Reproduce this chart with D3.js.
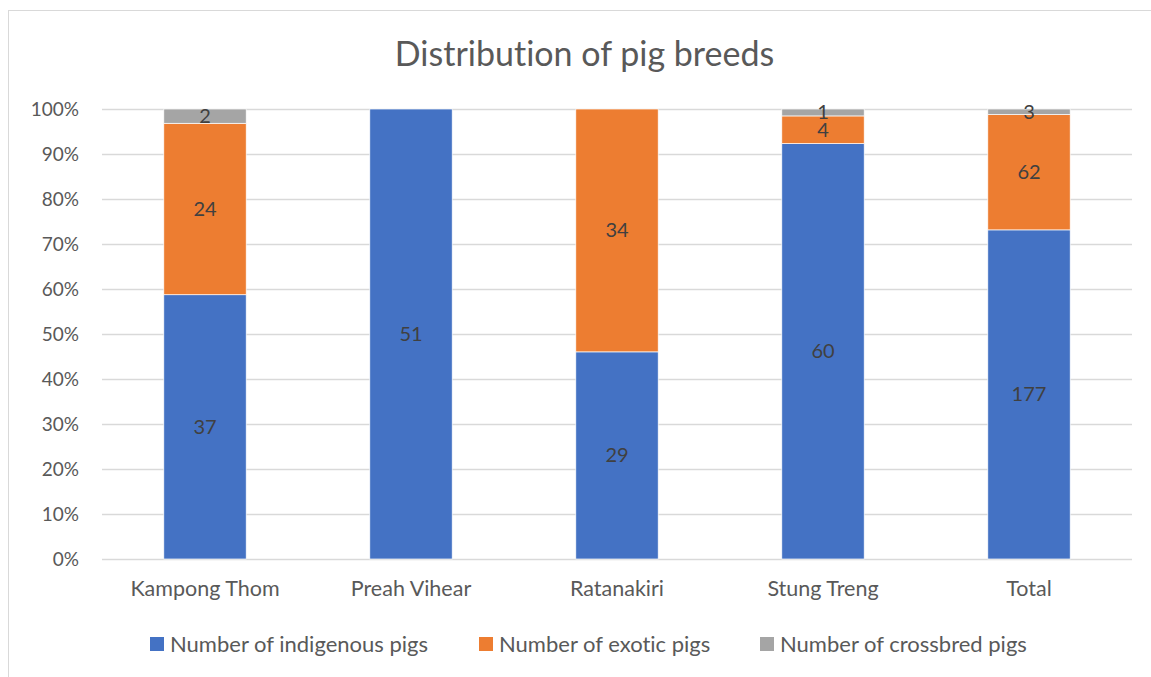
<!DOCTYPE html>
<html><head><meta charset="utf-8">
<script src="https://cdn.jsdelivr.net/npm/d3@7"></script>
<style>body{margin:0;background:#fff}svg{display:block}text{font-variant-ligatures:none}</style>
</head><body>
<svg id="c" width="1151" height="677"></svg>
<script>
const categories = ["Kampong Thom","Preah Vihear","Ratanakiri","Stung Treng","Total"];
const seriesNames = ["Number of indigenous pigs","Number of exotic pigs","Number of crossbred pigs"];
const indigenous = [37,51,29,60,177];
const exotic = [24,0,34,4,62];
const crossbred = [2,0,0,1,3];
const colors = ["#4472C4","#ED7D31","#A5A5A5"];
const yTicks = [0,0.1,0.2,0.3,0.4,0.5,0.6,0.7,0.8,0.9,1];
const title = "Distribution of pig breeds";

const FONT = "Lato, 'Open Sans', sans-serif";
const svg = d3.select("#c");
svg.append("rect").attr("x",8.5).attr("y",10.5).attr("width",1160).attr("height",700)
  .attr("fill","#fff").attr("stroke","#D9D9D9");

const L=102, R=1132, T=109, B=559;
const x = d3.scaleBand().domain(categories).range([L,R]).paddingInner(0.6).paddingOuter(0.3);
const y = d3.scaleLinear().domain([0,1]).range([B,T]);

svg.append("text").attr("x",584.5).attr("y",66).attr("text-anchor","middle")
  .attr("font-family",FONT).attr("font-size",34).attr("fill","#595959").text(title);

// gridlines
svg.append("g").selectAll("line").data(yTicks).join("line")
  .attr("x1",L).attr("x2",R).attr("y1",d=>Math.round(y(d))+0.5).attr("y2",d=>Math.round(y(d))+0.5)
  .attr("stroke","#D9D9D9").attr("stroke-width",1.3);

// y axis
const yAx = svg.append("g").attr("transform",`translate(${L-23},0)`)
  .call(d3.axisLeft(y).tickValues(yTicks).tickFormat(d3.format(".0%")).tickSize(0).tickPadding(0));
yAx.select(".domain").remove();
yAx.selectAll("text").attr("font-family",FONT).attr("font-size",19).attr("fill","#595959").attr("dy","0.35em");

// x axis
const xAx = svg.append("g").attr("transform",`translate(0,${B})`)
  .call(d3.axisBottom(x).tickSize(0).tickPadding(22));
xAx.select(".domain").remove();
xAx.selectAll("text").attr("font-family",FONT).attr("font-size",21.5).attr("fill","#595959");

const rows = categories.map((c,i)=>({cat:c, s0:indigenous[i], s1:exotic[i], s2:crossbred[i]}));
const stack = d3.stack().keys(["s0","s1","s2"]).offset(d3.stackOffsetExpand);
const series = stack(rows);

const g = svg.append("g");
series.forEach((s,si)=>{
  g.append("g").selectAll("rect").data(s.filter(d=>d[1]-d[0]>0)).join("rect")
    .attr("x",d=>x(d.data.cat)).attr("width",x.bandwidth())
    .attr("y",d=>y(d[1])).attr("height",d=>y(d[0])-y(d[1]))
    .attr("fill",colors[si]).attr("stroke","#fff").attr("stroke-width",0.7);
});
series.forEach((s,si)=>{
  g.append("g").selectAll("text").data(s.filter(d=>d.data[s.key]>0)).join("text")
    .attr("x",d=>x(d.data.cat)+x.bandwidth()/2).attr("y",d=>y((d[0]+d[1])/2))
    .attr("dy","0.35em").attr("text-anchor","middle")
    .attr("font-family",FONT).attr("font-size",20).attr("fill","#404040")
    .text(d=>d.data[s.key]);
});

// legend
const legX = [150,479,760];
const leg = svg.append("g");
seriesNames.forEach((n,i)=>{
  leg.append("rect").attr("x",legX[i]).attr("y",637).attr("width",14).attr("height",14).attr("fill",colors[i]);
  leg.append("text").attr("x",legX[i]+20).attr("y",644).attr("dy","0.35em")
    .attr("font-family",FONT).attr("font-size",22).attr("fill","#595959").text(n);
});
</script>
</body></html>
